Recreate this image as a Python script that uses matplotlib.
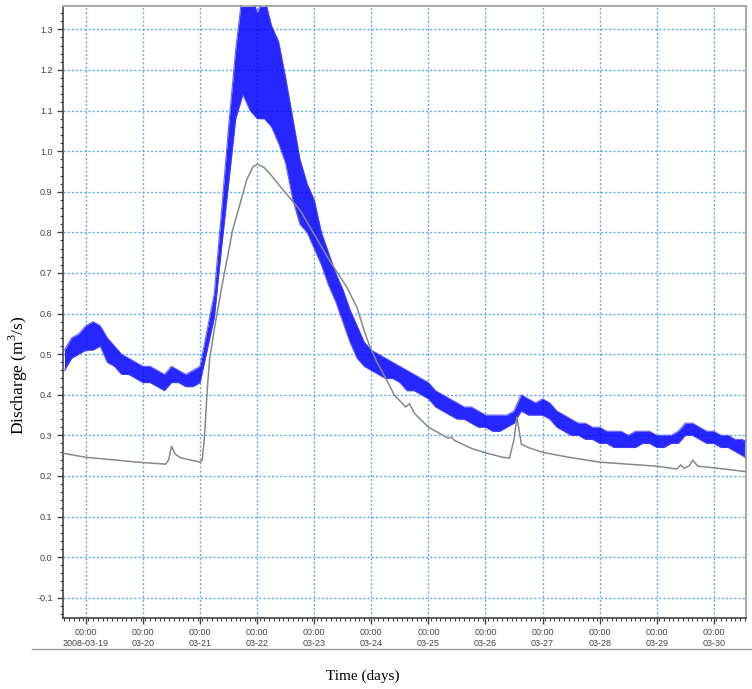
import numpy as np
import matplotlib
matplotlib.use('Agg')
import matplotlib.pyplot as plt
import matplotlib.dates as mdates
from matplotlib.ticker import MultipleLocator, FixedLocator
from matplotlib.lines import Line2D

plt.rcParams['mathtext.fontset'] = 'custom'
plt.rcParams['mathtext.rm'] = 'Liberation Serif'

# observed discharge, 3-hourly band (low / high of the noisy record), from 2008-03-18 15:00
obs_low = [0.46, 0.49, 0.50, 0.51, 0.51, 0.52, 0.48, 0.47, 0.45, 0.45,
           0.44, 0.43, 0.43, 0.42, 0.41, 0.43, 0.43, 0.42, 0.42, 0.43,
           0.51, 0.59, 0.76, 0.92, 1.08, 1.14, 1.10, 1.08, 1.08, 1.06,
           1.02, 0.97, 0.88, 0.82, 0.80, 0.76, 0.72, 0.67, 0.63, 0.58,
           0.53, 0.49, 0.47, 0.46, 0.45, 0.44, 0.44, 0.43, 0.41, 0.41,
           0.40, 0.39, 0.37, 0.36, 0.35, 0.34, 0.34, 0.33, 0.32, 0.32,
           0.31, 0.31, 0.32, 0.33, 0.36, 0.35, 0.35, 0.35, 0.34, 0.32,
           0.31, 0.30, 0.30, 0.29, 0.29, 0.28, 0.28, 0.27, 0.27, 0.27,
           0.27, 0.28, 0.28, 0.27, 0.27, 0.28, 0.28, 0.30, 0.30, 0.29,
           0.28, 0.28, 0.27, 0.27, 0.26, 0.25, 0.24]
obs_high = [0.51, 0.54, 0.55, 0.57, 0.58, 0.57, 0.54, 0.52, 0.50, 0.49,
            0.48, 0.47, 0.47, 0.46, 0.45, 0.47, 0.46, 0.45, 0.46, 0.47,
            0.56, 0.65, 0.85, 1.06, 1.25, 1.40, 1.40, 1.34, 1.38, 1.31,
            1.27, 1.18, 1.08, 0.98, 0.92, 0.88, 0.80, 0.75, 0.70, 0.66,
            0.61, 0.57, 0.53, 0.51, 0.50, 0.49, 0.48, 0.47, 0.46, 0.45,
            0.44, 0.43, 0.41, 0.40, 0.39, 0.38, 0.37, 0.37, 0.36, 0.35,
            0.35, 0.35, 0.35, 0.36, 0.40, 0.39, 0.38, 0.39, 0.38, 0.36,
            0.35, 0.34, 0.33, 0.33, 0.32, 0.32, 0.31, 0.31, 0.31, 0.30,
            0.31, 0.31, 0.31, 0.30, 0.30, 0.30, 0.31, 0.33, 0.33, 0.32,
            0.31, 0.31, 0.30, 0.30, 0.29, 0.29, 0.28]

# simulated discharge: days after 2008-03-19 00:00, value
sim_days = [-0.4, 0.0, 0.9, 1.4, 1.45, 1.5, 1.56, 1.65, 2.0, 2.04,
            2.08, 2.13, 2.17, 2.26, 2.4, 2.57, 2.7, 2.82, 2.93, 3.01,
            3.12, 3.22, 3.45, 3.75, 3.98, 4.27, 4.57, 4.75, 4.87, 4.97,
            5.1, 5.27, 5.4, 5.6, 5.67, 5.75, 6.0, 6.35, 6.4, 6.45,
            6.75, 7.0, 7.3, 7.42, 7.5, 7.55, 7.63, 7.75, 8.0, 8.5,
            9.0, 10.0, 10.35, 10.42, 10.48, 10.57, 10.63, 10.72, 11.0, 11.6]
sim_q = [0.256, 0.246, 0.234, 0.229, 0.24, 0.273, 0.255, 0.245, 0.234, 0.24,
         0.30, 0.42, 0.49, 0.57, 0.68, 0.805, 0.87, 0.93, 0.962, 0.968,
         0.96, 0.945, 0.905, 0.855, 0.80, 0.73, 0.665, 0.615, 0.56, 0.52,
         0.48, 0.436, 0.40, 0.37, 0.378, 0.355, 0.32, 0.293, 0.296, 0.288,
         0.268, 0.257, 0.246, 0.244, 0.29, 0.345, 0.278, 0.27, 0.258, 0.245,
         0.234, 0.224, 0.217, 0.227, 0.219, 0.225, 0.239, 0.224, 0.22, 0.21]

day_labels = ['2008-03-19', '03-20', '03-21', '03-22', '03-23', '03-24',
              '03-25', '03-26', '03-27', '03-28', '03-29', '03-30']

t0 = mdates.date2num(np.datetime64('2008-03-19T00:00'))
obs_start = mdates.date2num(np.datetime64('2008-03-18T15:00'))
step = 3 / 24.0
t_obs = obs_start + np.arange(len(obs_low)) * step

fig = plt.figure(figsize=(7.52, 6.89), dpi=100)
ax = fig.add_axes([0.0838, 0.103, 0.908, 0.888])

grid_color = '#5aaaf5'
ax.fill_between(t_obs, obs_low, obs_high, color='#0000ff', alpha=0.85, lw=0, zorder=2)
ax.plot(t_obs, obs_low, color='#4040ff', lw=0.8, alpha=0.8, zorder=3)
ax.plot(t_obs, obs_high, color='#4040ff', lw=0.8, alpha=0.8, zorder=3)
ax.plot(t0 + np.array(sim_days), sim_q, color='#888888', lw=1.1, zorder=4)

ax.set_xlim(t0 - 0.4, t0 + 11.56)
ax.set_ylim(-0.15, 1.357)

ticks = t0 + np.arange(len(day_labels))
ax.xaxis.set_major_locator(FixedLocator(ticks))
ax.set_xticklabels(['00:00\n' + s for s in day_labels])
ax.xaxis.set_minor_locator(mdates.HourLocator(interval=2))
ax.yaxis.set_major_locator(MultipleLocator(0.1))
ax.yaxis.set_minor_locator(MultipleLocator(0.02))
ax.yaxis.set_major_formatter(matplotlib.ticker.FormatStrFormatter('%.1f'))

ax.tick_params(which='major', length=4, width=1, color='#444444', labelsize=6.5,
               labelcolor='#444444', direction='out')
ax.tick_params(which='minor', length=2, width=0.8, color='#444444', direction='out')
for lab in ax.get_xticklabels() + ax.get_yticklabels():
    lab.set_family('Liberation Sans')

ax.grid(True, which='major', color=grid_color, linestyle=(0, (1.5, 1.5)), lw=1)
ax.set_axisbelow(True)

for side in ['left', 'bottom']:
    ax.spines[side].set_color('#444444')
    ax.spines[side].set_linewidth(1.2)
for side in ['top', 'right']:
    ax.spines[side].set_color('#aaaaaa')
    ax.spines[side].set_linewidth(1.5)

fig.add_artist(Line2D([0.0426, 1.0], [0.058, 0.058], color='#999999', lw=1))
fig.text(0.483, 0.019, 'Time (days)', family='Liberation Serif', fontsize=11,
         ha='center', va='center')
fig.text(0.024, 0.456, r'Discharge (m$^{\mathrm{3}}$/s)', family='Liberation Serif',
         fontsize=12.5, ha='center', va='center', rotation=90)

fig.savefig('out.png', dpi=100)
